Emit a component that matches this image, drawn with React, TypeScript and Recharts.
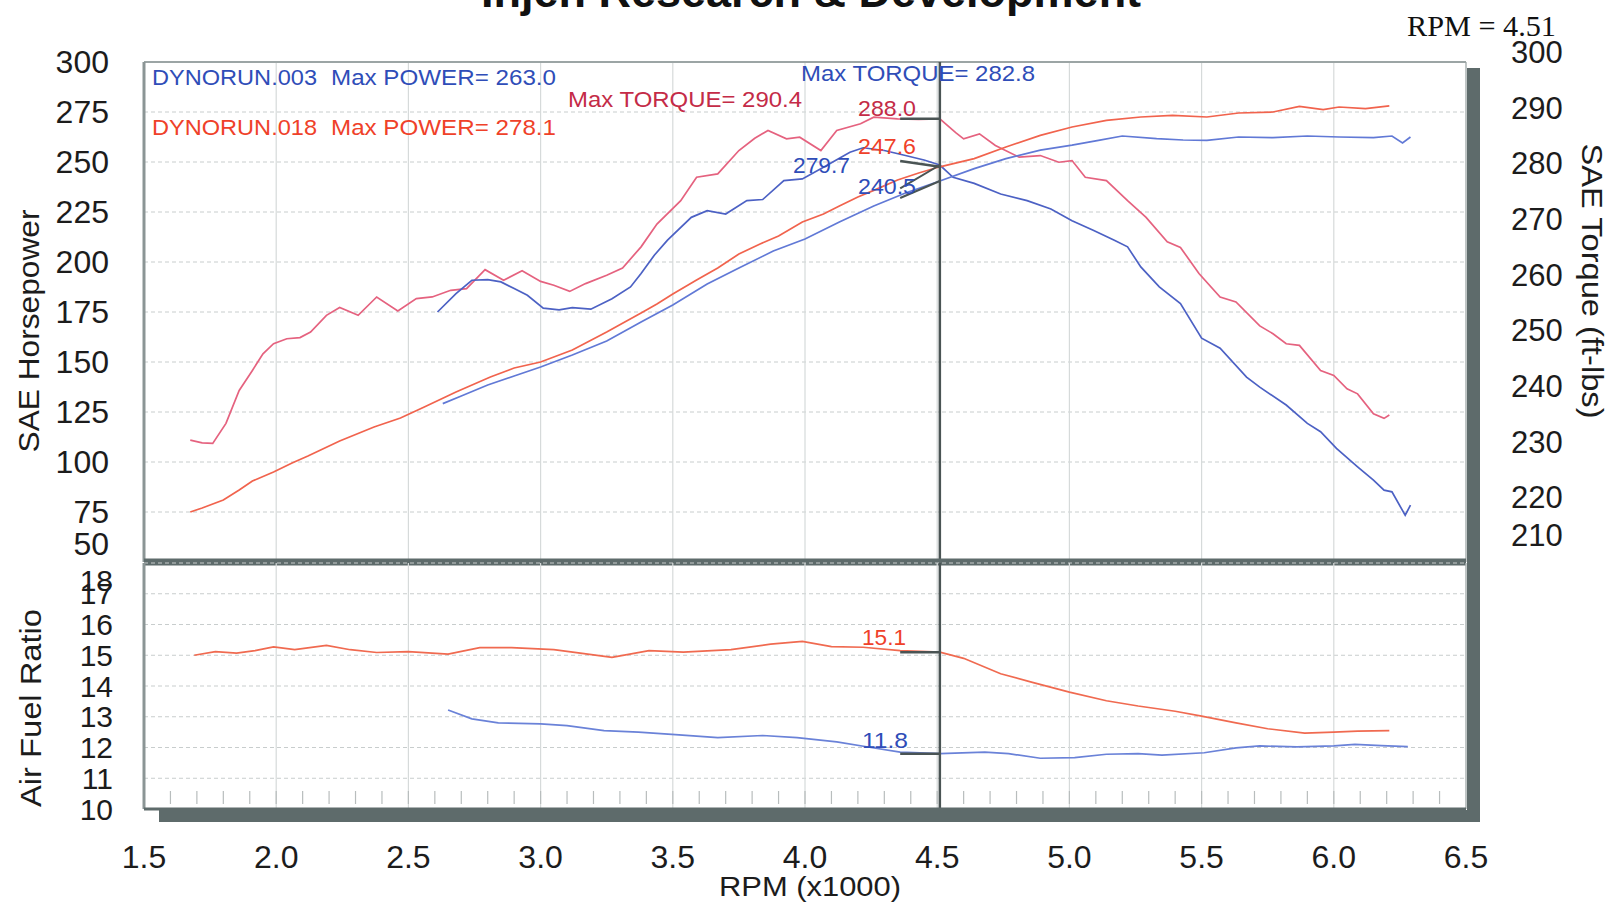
import { LineChart, Line, XAxis, YAxis, CartesianGrid, ReferenceLine } from 'recharts';

type Pt = [number, number];

// DYNORUN.018 (red run) - [rpm x1000, value]
const hp018: Pt[] = [
  [1.675, 75], [1.72, 77], [1.8, 81], [1.86, 86], [1.91, 90.5], [1.99, 95], [2.06, 99.5], [2.12, 103],
  [2.24, 110.5], [2.37, 117.5], [2.47, 122], [2.56, 127.5], [2.68, 135], [2.81, 142.5], [2.9, 147],
  [3.0, 150], [3.12, 156], [3.25, 165], [3.38, 174.5], [3.44, 179], [3.5, 184], [3.59, 191], [3.67, 197],
  [3.75, 204], [3.83, 209], [3.9, 213], [3.99, 220], [4.07, 224], [4.13, 228], [4.2, 232.5], [4.26, 235.8],
  [4.35, 241], [4.43, 244.5], [4.51, 247.6], [4.64, 251.7], [4.76, 257.5], [4.89, 263.3], [5.01, 267.5],
  [5.14, 270.8], [5.27, 272.5], [5.39, 273.3], [5.52, 272.5], [5.64, 274.5], [5.77, 275], [5.87, 277.8],
  [5.96, 276.2], [6.02, 277.5], [6.12, 276.7], [6.21, 278.1],
];

const torque018: Pt[] = [
  [1.675, 230.3], [1.72, 229.8], [1.76, 229.7], [1.81, 233.3], [1.86, 239.2], [1.91, 242.8], [1.95, 245.8],
  [1.99, 247.6], [2.04, 248.5], [2.09, 248.7], [2.13, 249.7], [2.19, 252.7], [2.24, 254.1], [2.31, 252.7],
  [2.38, 256], [2.46, 253.5], [2.53, 255.7], [2.59, 256], [2.66, 257.2], [2.72, 257.5], [2.79, 260.9],
  [2.86, 259], [2.93, 260.7], [3.0, 258.8], [3.05, 258.1], [3.11, 257], [3.17, 258.4], [3.25, 259.9],
  [3.31, 261.2], [3.38, 265], [3.44, 269.1], [3.53, 273.3], [3.59, 277.5], [3.67, 278.1], [3.75, 282.3],
  [3.81, 284.5], [3.86, 285.9], [3.93, 284.4], [3.98, 284.7], [4.06, 282.3], [4.12, 285.9], [4.21, 287.1],
  [4.26, 288.3], [4.35, 288], [4.43, 287.9], [4.51, 288], [4.57, 285.5], [4.6, 284.4], [4.66, 285.3],
  [4.72, 283.2], [4.81, 281.1], [4.89, 281.4], [4.96, 280.2], [5.01, 280.5], [5.06, 277.5], [5.14, 276.9],
  [5.22, 273.3], [5.29, 270.3], [5.37, 265.9], [5.42, 264.9], [5.49, 260.2], [5.57, 256], [5.63, 255.1],
  [5.72, 250.8], [5.77, 249.4], [5.82, 247.6], [5.87, 247.3], [5.95, 242.8], [6.0, 241.9], [6.05, 239.5],
  [6.09, 238.6], [6.15, 235], [6.19, 234.2], [6.21, 234.8],
];

const afr018: Pt[] = [
  [1.69, 15.0], [1.77, 15.12], [1.85, 15.07], [1.92, 15.15], [1.99, 15.27], [2.07, 15.18], [2.19, 15.32],
  [2.28, 15.18], [2.38, 15.09], [2.5, 15.12], [2.65, 15.04], [2.77, 15.25], [2.89, 15.25], [3.05, 15.18],
  [3.15, 15.07], [3.27, 14.93], [3.41, 15.15], [3.54, 15.1], [3.72, 15.18], [3.87, 15.36], [3.99, 15.45],
  [4.1, 15.28], [4.22, 15.26], [4.36, 15.15], [4.51, 15.1], [4.6, 14.9], [4.74, 14.4], [4.86, 14.12],
  [5.0, 13.8], [5.14, 13.52], [5.26, 13.35], [5.4, 13.18], [5.5, 13.02], [5.63, 12.8], [5.75, 12.61],
  [5.89, 12.47], [6.0, 12.5], [6.09, 12.53], [6.21, 12.55],
];

// DYNORUN.003 (blue run)
const hp003: Pt[] = [
  [2.63, 129.2], [2.7, 133], [2.8, 138.5], [2.9, 143], [3.0, 147.5], [3.12, 153.5], [3.25, 160.5],
  [3.38, 170], [3.5, 178.5], [3.63, 189], [3.75, 197], [3.88, 205.5], [4.0, 211.5], [4.13, 220],
  [4.26, 228], [4.38, 234.5], [4.51, 240.5], [4.64, 246.7], [4.76, 251.7], [4.89, 255.9], [5.01, 258.4],
  [5.11, 260.8], [5.2, 263], [5.33, 261.7], [5.43, 261], [5.52, 260.8], [5.64, 262.5], [5.77, 262.2],
  [5.9, 263], [6.02, 262.5], [6.15, 262.2], [6.22, 263], [6.26, 259.5], [6.29, 262.5],
];

const torque003: Pt[] = [
  [2.61, 253.3], [2.68, 256.6], [2.74, 259], [2.8, 259.1], [2.85, 258.7], [2.9, 257.5], [2.95, 256.3],
  [3.01, 254], [3.07, 253.7], [3.12, 254.1], [3.19, 253.8], [3.27, 255.7], [3.34, 257.8], [3.38, 260.2],
  [3.43, 263.5], [3.48, 266.2], [3.57, 270.3], [3.63, 271.5], [3.7, 270.9], [3.78, 273.3], [3.84, 273.5],
  [3.92, 276.9], [3.99, 277.2], [4.07, 279.3], [4.17, 282], [4.22, 282.8], [4.3, 282.3], [4.38, 281.4],
  [4.45, 280.6], [4.51, 279.7], [4.56, 277.5], [4.64, 276.4], [4.74, 274.5], [4.84, 273.3], [4.93, 271.8],
  [5.01, 269.7], [5.09, 268], [5.17, 266.2], [5.22, 265], [5.27, 261.4], [5.34, 257.8], [5.42, 254.8],
  [5.5, 248.6], [5.57, 246.8], [5.67, 241.6], [5.72, 239.8], [5.82, 236.6], [5.9, 233.3], [5.95, 231.8],
  [6.01, 228.8], [6.09, 225.5], [6.15, 223.1], [6.19, 221.3], [6.22, 221], [6.27, 216.8], [6.29, 218.6],
];

const afr003: Pt[] = [
  [2.65, 13.22], [2.74, 12.93], [2.84, 12.8], [3.0, 12.77], [3.1, 12.71], [3.24, 12.55], [3.37, 12.5],
  [3.51, 12.42], [3.67, 12.32], [3.84, 12.39], [3.97, 12.32], [4.12, 12.18], [4.25, 12.0], [4.36, 11.85],
  [4.51, 11.8], [4.68, 11.85], [4.77, 11.8], [4.89, 11.65], [5.02, 11.67], [5.14, 11.78], [5.26, 11.8],
  [5.35, 11.75], [5.51, 11.83], [5.63, 11.99], [5.72, 12.05], [5.86, 12.02], [6.0, 12.05], [6.08, 12.1],
  [6.18, 12.06], [6.28, 12.03],
];

const hpTicks = [50, 75, 100, 125, 150, 175, 200, 225, 250, 275, 300];
const torqueTicks = [210, 220, 230, 240, 250, 260, 270, 280, 290, 300];
const afrTicks = [10, 11, 12, 13, 14, 15, 16, 17, 18];
const rpmGrid = [2.0, 2.5, 3.0, 3.5, 4.0, 4.5, 5.0, 5.5, 6.0];
const rpmMinor = Array.from({ length: 51 }, (_, i) => +(1.5 + i * 0.1).toFixed(1));

const cursorRpm = 4.51;

const FONT = '"Liberation Sans", Arial, sans-serif';
const INK = '#1c1c1c';
const FRAME = '#5e6b6b';
const LEADER = '#4a5454';
const BLUE_TXT = '#2f4db8';
const RED_TXT = '#ef4129';
const CRIMSON_TXT = '#c42b47';

const rows = (pts: Pt[]) => pts.map(([rpm, v]) => ({ rpm, v }));

function HpTick({ x, y, payload }: any) {
  const lift = payload.value === 50 ? -18 : 0;
  return (
    <text x={x} y={y + lift} dy={11} textAnchor="end" fontSize={32} fontFamily={FONT} fill={INK}>
      {payload.value}
    </text>
  );
}

function TorqueTick({ x, y, payload }: any) {
  const lift = payload.value === 210 ? -18 : 0;
  return (
    <text x={x} y={y + lift} dy={11} textAnchor="start" fontSize={31} fontFamily={FONT} fill={INK}>
      {payload.value}
    </text>
  );
}

function AfrTick({ x, y, payload }: any) {
  const drop = payload.value === 18 ? 17 : 0;
  return (
    <text x={x} y={y + drop} dy={10.5} textAnchor="end" fontSize={30} fontFamily={FONT} fill={INK}>
      {payload.value}
    </text>
  );
}

function RpmTick({ x, y, payload }: any) {
  const v = payload.value as number;
  const major = Math.abs(v * 2 - Math.round(v * 2)) < 1e-6;
  const edge = v <= 1.5 || v >= 6.5;
  return (
    <g>
      {!edge && <line x1={x} x2={x} y1={y - 18} y2={y - 5} stroke="#b8bdbd" strokeWidth={1.2} />}
      {major && (
        <text x={x} y={y + 59} textAnchor="middle" fontSize={32} fontFamily={FONT} fill={INK}>
          {v.toFixed(1)}
        </text>
      )}
    </g>
  );
}

const lineProps = { dataKey: 'v', dot: false, isAnimationActive: false, strokeWidth: 1.7 } as const;

export default function App() {
  return (
    <div
      style={{
        position: 'absolute',
        left: 0,
        top: 0,
        width: 1610,
        height: 903,
        overflow: 'hidden',
        background: '#fff',
        fontFamily: FONT,
      }}
    >
      {/* power / torque */}
      <div style={{ position: 'absolute', left: 0, top: 0 }}>
        <LineChart width={1610} height={570} margin={{ top: 62, right: 0, bottom: 8, left: 0 }}>
          <CartesianGrid yAxisId="hp" vertical={false} stroke="#c8cdcd" strokeDasharray="4 3" />
          <XAxis
            dataKey="rpm"
            type="number"
            domain={[1.5, 6.5]}
            allowDataOverflow
            height={0}
            tick={false}
            axisLine={false}
            tickLine={false}
          />
          <YAxis
            yAxisId="hp"
            orientation="left"
            width={144}
            domain={[50, 300]}
            ticks={hpTicks}
            interval={0}
            allowDataOverflow
            axisLine={false}
            tickLine={false}
            tickSize={0}
            tickMargin={35}
            tick={<HpTick />}
          />
          <YAxis
            yAxisId="tq"
            orientation="right"
            width={144}
            domain={[208.4, 298.2]}
            ticks={torqueTicks}
            interval={0}
            allowDataOverflow
            axisLine={false}
            tickLine={false}
            tickSize={0}
            tickMargin={45}
            tick={<TorqueTick />}
          />
          {rpmGrid.map((r) => (
            <ReferenceLine key={r} yAxisId="hp" x={r} stroke="#d6dada" strokeWidth={1.2} />
          ))}
          <ReferenceLine yAxisId="hp" x={6.5} stroke="#aab2b2" strokeWidth={1.5} />
          <ReferenceLine yAxisId="hp" y={300} stroke="#9ca5a5" strokeWidth={2} />
          <ReferenceLine yAxisId="hp" x={1.5} stroke="#8b9595" strokeWidth={3} />

          <Line yAxisId="tq" data={rows(torque018)} stroke="#e5627f" {...lineProps} />
          <Line yAxisId="tq" data={rows(torque003)} stroke="#4c61c4" {...lineProps} />
          <Line yAxisId="hp" data={rows(hp018)} stroke="#f1634d" {...lineProps} />
          <Line yAxisId="hp" data={rows(hp003)} stroke="#6179d6" {...lineProps} />

          <ReferenceLine yAxisId="hp" x={cursorRpm} stroke={LEADER} strokeWidth={2.5} />
          <ReferenceLine yAxisId="tq" segment={[{ x: 4.36, y: 288 }, { x: cursorRpm, y: 288 }]} stroke={LEADER} strokeWidth={2.5} />
          <ReferenceLine yAxisId="hp" segment={[{ x: 4.36, y: 250.5 }, { x: cursorRpm, y: 247.6 }]} stroke={LEADER} strokeWidth={2.5} />
          <ReferenceLine yAxisId="tq" segment={[{ x: 4.36, y: 275.5 }, { x: cursorRpm, y: 279.7 }]} stroke={LEADER} strokeWidth={2} />
          <ReferenceLine yAxisId="hp" segment={[{ x: 4.36, y: 232 }, { x: cursorRpm, y: 240.5 }]} stroke={LEADER} strokeWidth={2} />
          <ReferenceLine yAxisId="hp" y={50} stroke={FRAME} strokeWidth={7} />
        </LineChart>
      </div>

      {/* air fuel ratio */}
      <div style={{ position: 'absolute', left: 0, top: 540 }}>
        <LineChart width={1610} height={363} margin={{ top: 23, right: 144, bottom: 34, left: 0 }}>
          <CartesianGrid vertical={false} stroke="#c8cdcd" strokeDasharray="4 3" />
          <XAxis
            dataKey="rpm"
            type="number"
            domain={[1.5, 6.5]}
            allowDataOverflow
            ticks={rpmMinor}
            interval={0}
            height={60}
            axisLine={false}
            tickLine={false}
            tickSize={0}
            tickMargin={0}
            tick={<RpmTick />}
          />
          <YAxis
            width={144}
            domain={[10, 18]}
            ticks={afrTicks}
            interval={0}
            allowDataOverflow
            axisLine={false}
            tickLine={false}
            tickSize={0}
            tickMargin={31}
            tick={<AfrTick />}
          />
          {rpmGrid.map((r) => (
            <ReferenceLine key={r} x={r} stroke="#d6dada" strokeWidth={1.2} />
          ))}
          <ReferenceLine x={6.5} stroke="#aab2b2" strokeWidth={1.5} />
          <ReferenceLine x={1.5} stroke="#8b9595" strokeWidth={3} />

          <Line data={rows(afr018)} stroke="#f06a50" {...lineProps} />
          <Line data={rows(afr003)} stroke="#6a82d8" {...lineProps} />

          <ReferenceLine x={cursorRpm} stroke={LEADER} strokeWidth={2.5} />
          <ReferenceLine segment={[{ x: 4.36, y: 15.1 }, { x: cursorRpm, y: 15.1 }]} stroke={LEADER} strokeWidth={2.5} />
          <ReferenceLine segment={[{ x: 4.36, y: 11.8 }, { x: cursorRpm, y: 11.8 }]} stroke={LEADER} strokeWidth={2.5} />
          <ReferenceLine y={10} stroke={FRAME} strokeWidth={3} />
        </LineChart>
      </div>

      {/* frame shadow */}
      <div style={{ position: 'absolute', left: 1467, top: 68, width: 13, height: 754, background: FRAME }} />
      <div style={{ position: 'absolute', left: 159, top: 810, width: 1321, height: 12, background: FRAME }} />

      <svg
        width={1610}
        height={903}
        style={{ position: 'absolute', left: 0, top: 0, pointerEvents: 'none' }}
        fontFamily={FONT}
      >
        <text x={811} y={7} textAnchor="middle" fontSize={45} fontWeight="bold" fill="#111">
          Injen Research &amp; Development
        </text>
        <text
          x={1407}
          y={36}
          fontFamily='"Liberation Serif", "Times New Roman", serif'
          fontSize={30}
          textLength={149}
          lengthAdjust="spacingAndGlyphs"
          fill="#111"
        >
          RPM = 4.51
        </text>

        <text x={152} y={85} fontSize={22} fill={BLUE_TXT} textLength={165} lengthAdjust="spacingAndGlyphs">DYNORUN.003</text>
        <text x={331} y={85} fontSize={22} fill={BLUE_TXT} textLength={225} lengthAdjust="spacingAndGlyphs">Max POWER= 263.0</text>
        <text x={152} y={135} fontSize={22} fill={RED_TXT} textLength={165} lengthAdjust="spacingAndGlyphs">DYNORUN.018</text>
        <text x={331} y={135} fontSize={22} fill={RED_TXT} textLength={225} lengthAdjust="spacingAndGlyphs">Max POWER= 278.1</text>
        <text x={568} y={107} fontSize={22} fill={CRIMSON_TXT} textLength={234} lengthAdjust="spacingAndGlyphs">Max TORQUE= 290.4</text>
        <text x={801} y={81} fontSize={22} fill={BLUE_TXT} textLength={234} lengthAdjust="spacingAndGlyphs">Max TORQUE= 282.8</text>

        <text x={858} y={116} fontSize={22} fill={CRIMSON_TXT} textLength={58} lengthAdjust="spacingAndGlyphs">288.0</text>
        <text x={858} y={154} fontSize={22} fill={RED_TXT} textLength={58} lengthAdjust="spacingAndGlyphs">247.6</text>
        <text x={793} y={173} fontSize={22} fill={BLUE_TXT} textLength={57} lengthAdjust="spacingAndGlyphs">279.7</text>
        <text x={858} y={194} fontSize={22} fill={BLUE_TXT} textLength={58} lengthAdjust="spacingAndGlyphs">240.5</text>
        <text x={862} y={645} fontSize={22} fill={RED_TXT} textLength={44} lengthAdjust="spacingAndGlyphs">15.1</text>
        <text x={862} y={748} fontSize={22} fill={BLUE_TXT} textLength={46} lengthAdjust="spacingAndGlyphs">11.8</text>

        <text transform="translate(29,331) rotate(-90)" textAnchor="middle" dy={10} fontSize={30} fill={INK} textLength={243} lengthAdjust="spacingAndGlyphs">
          SAE Horsepower
        </text>
        <text transform="translate(1592,281) rotate(90)" textAnchor="middle" dy={10} fontSize={29} fill={INK} textLength={275} lengthAdjust="spacingAndGlyphs">
          SAE Torque (ft-lbs)
        </text>
        <text transform="translate(31,708) rotate(-90)" textAnchor="middle" dy={10} fontSize={30} fill={INK} textLength={198} lengthAdjust="spacingAndGlyphs">
          Air Fuel Ratio
        </text>
        <text x={810} y={896} textAnchor="middle" fontSize={28} fill={INK} textLength={182} lengthAdjust="spacingAndGlyphs">
          RPM (x1000)
        </text>
      </svg>
    </div>
  );
}
